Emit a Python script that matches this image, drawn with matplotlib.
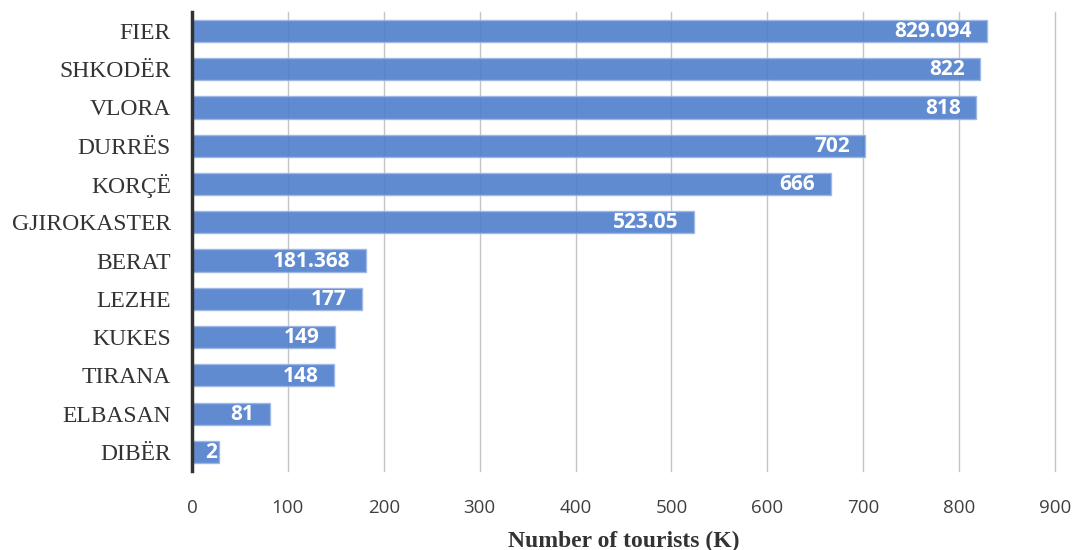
import matplotlib.pyplot as plt

# Data (top to bottom as in the chart)
regions = ['FIER', 'SHKODËR', 'VLORA', 'DURRËS', 'KORÇË', 'GJIROKASTER',
           'BERAT', 'LEZHE', 'KUKES', 'TIRANA', 'ELBASAN', 'DIBËR']
tourists = [829.094, 822, 818, 702, 666, 523.05, 181.368, 177, 149, 148, 81, 28]
value_labels = ['829.094', '822', '818', '702', '666', '523.05',
                '181.368', '177', '149', '148', '81', '2']
x_ticks = [0, 100, 200, 300, 400, 500, 600, 700, 800, 900]

fig = plt.figure(figsize=(10.78, 5.5), dpi=100)
ax = fig.add_axes([0.178, 0.1436, 0.8007, 0.835])

pos = list(range(len(regions)))[::-1]
ax.barh(pos, tourists, height=0.58, color='#4f7fcc', alpha=0.9,
        edgecolor='#9db6e3', linewidth=1, zorder=2)

# Value labels inside the bar end (the tiny bar gets its label flush at the end)
for y, v, lab in zip(pos, tourists, value_labels):
    dx = -11 if v > 50 else -1
    ax.annotate(lab, xy=(v, y), xytext=(dx, -0.5), textcoords='offset points',
                ha='right', va='center', color='white', fontsize=15,
                fontweight='bold', family='Open Sans', zorder=3)

ax.set_xlim(0, 900)
ax.set_ylim(-0.5, len(regions) - 0.5)
ax.set_xticks(x_ticks)
ax.set_xticklabels([str(t) for t in x_ticks], family='Open Sans', fontsize=13.5,
                   color='#404040')
ax.set_yticks(pos)
ax.set_yticklabels(regions, family='Liberation Serif', fontsize=17, color='#333333')
ax.tick_params(axis='x', length=0, pad=20)
ax.tick_params(axis='y', length=0, pad=15)

ax.grid(axis='x', color='#c4c4c4', linewidth=1, zorder=1)
for gl in ax.get_xgridlines():
    gl.set_clip_on(False)
for side in ['top', 'right', 'bottom']:
    ax.spines[side].set_visible(False)
ax.spines['left'].set_color('#333333')
ax.spines['left'].set_linewidth(2.5)
ax.spines['left'].set_zorder(4)

ax.set_xlabel('Number of tourists (K)', family='Liberation Serif', fontsize=17,
              fontweight='bold', color='#333333', labelpad=10)

fig.savefig('out.png', dpi=100)
